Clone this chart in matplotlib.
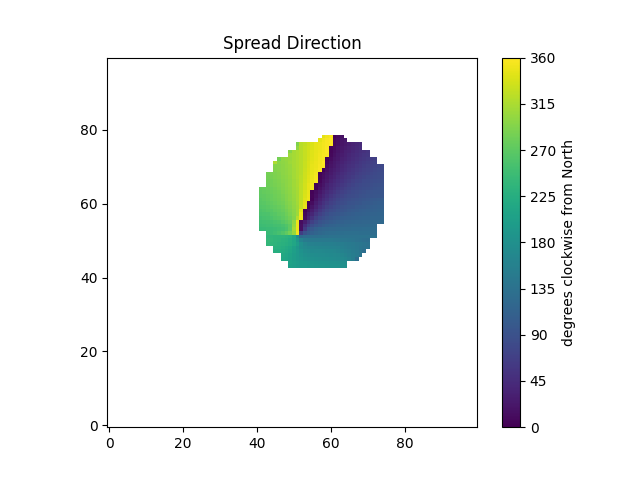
import numpy as np
import matplotlib
matplotlib.use("Agg")
import matplotlib.pyplot as plt

grid_size = 100
first_col = {78: 58, 77: 57, 76: 51, 75: 51, 74: 49, 73: 49, 72: 46, 71: 45, 70: 45, 69: 45,
             68: 43, 67: 43, 66: 43, 65: 43, 64: 41, 63: 41, 62: 41, 61: 41, 60: 41, 59: 41,
             58: 41, 57: 41, 56: 41, 55: 41, 54: 41, 53: 41, 52: 43, 51: 43, 50: 43, 49: 43,
             48: 45, 47: 45, 46: 47, 45: 47, 44: 49, 43: 49}

# degrees, one list per grid row
row_78 = [345, 352, 357, 3, 10, 16]
row_77 = [345, 352, 356, 359, 8, 14, 20, 25]
row_76 = [290, 321, 326, 333, 340, 346, 349, 353, 357, 359, 8, 14, 21, 25, 30, 35, 39, 43]
row_75 = [300, 321, 328, 334, 341, 346, 350, 354, 358, 3, 9, 17, 23, 28, 33, 37, 41, 45]
row_74 = [295, 312, 316, 321, 328, 335, 342, 347, 351, 355, 359, 6, 13, 20, 25, 31, 35, 40, 44, 48, 52, 55]
row_73 = [307, 312, 316, 321, 329, 336, 343, 348, 352, 356, 358, 8, 16, 23, 28, 33, 38, 43, 47, 51, 55, 59]
row_72 = [285, 300, 303, 306, 312, 316, 322, 329, 337, 344, 348, 353, 357, 4, 12, 20, 25, 31, 36, 41, 46, 50, 54, 58, 61, 65, 68]
row_71 = [315, 296, 299, 302, 307, 312, 316, 322, 330, 338, 345, 349, 354, 359, 7, 16, 23, 29, 35, 40, 44, 49, 53, 58, 61, 65, 68, 71]
row_70 = [293, 295, 298, 301, 305, 311, 315, 322, 330, 338, 346, 350, 355, 358, 10, 19, 25, 32, 38, 43, 48, 52, 57, 60, 65, 68, 71, 74, 76, 79]
row_69 = [292, 294, 297, 300, 305, 310, 315, 322, 331, 340, 347, 351, 357, 3, 15, 23, 29, 35, 41, 46, 51, 56, 60, 64, 68, 71, 74, 77, 79, 81]
row_68 = [285, 287, 290, 293, 297, 300, 304, 310, 315, 322, 332, 341, 348, 353, 3, 12, 19, 26, 33, 39, 45, 50, 55, 59, 64, 68, 71, 74, 77, 80, 82, 84]
row_67 = [283, 286, 289, 292, 296, 299, 303, 310, 315, 323, 333, 343, 349, 355, 5, 13, 22, 30, 36, 43, 49, 54, 59, 63, 68, 71, 75, 78, 80, 82, 84, 85]
row_66 = [282, 284, 287, 291, 295, 298, 302, 309, 314, 323, 334, 344, 351, 357, 6, 17, 25, 34, 41, 47, 53, 59, 63, 68, 72, 75, 79, 81, 83, 85, 87, 88]
row_65 = [281, 283, 286, 289, 293, 297, 301, 308, 314, 324, 335, 346, 353, 3, 12, 21, 31, 40, 46, 52, 58, 63, 68, 72, 76, 79, 82, 84, 86, 88, 89, 91]
row_64 = [275, 277, 279, 281, 284, 288, 292, 296, 300, 307, 313, 324, 336, 347, 354, 2, 16, 26, 35, 43, 50, 57, 63, 68, 72, 76, 80, 82, 85, 87, 88, 90, 92, 93]
row_63 = [272, 275, 277, 279, 282, 285, 290, 295, 299, 306, 312, 325, 338, 348, 3, 12, 22, 32, 42, 49, 56, 63, 68, 73, 77, 81, 84, 86, 88, 90, 92, 93, 94, 95]
row_62 = [270, 272, 275, 277, 280, 283, 288, 293, 298, 304, 312, 325, 340, 349, 5, 15, 27, 37, 47, 55, 62, 68, 74, 78, 82, 84, 87, 89, 91, 93, 94, 95, 96, 97]
row_61 = [268, 270, 273, 276, 279, 282, 286, 292, 297, 303, 311, 326, 342, 351, 4, 21, 33, 44, 53, 62, 68, 75, 79, 83, 86, 89, 91, 93, 96, 98, 100, 102, 104, 106]
row_60 = [266, 268, 270, 273, 276, 280, 284, 290, 295, 302, 310, 327, 345, 3, 12, 27, 40, 52, 60, 68, 74, 80, 84, 87, 90, 92, 95, 97, 100, 102, 104, 106, 107, 108]
row_59 = [264, 265, 268, 270, 273, 277, 281, 287, 293, 300, 309, 328, 347, 5, 20, 35, 48, 59, 68, 75, 81, 85, 89, 92, 95, 97, 100, 102, 104, 106, 108, 109, 110, 111]
row_58 = [260, 262, 265, 267, 270, 274, 278, 284, 291, 298, 308, 345, 3, 15, 29, 44, 58, 68, 76, 83, 87, 91, 94, 97, 100, 103, 105, 107, 109, 110, 111, 112, 113, 114]
row_57 = [257, 258, 260, 263, 267, 270, 274, 280, 288, 296, 307, 352, 8, 25, 39, 55, 68, 77, 85, 90, 93, 97, 100, 103, 106, 108, 110, 111, 112, 113, 114, 115, 116, 116]
row_56 = [253, 255, 257, 259, 263, 266, 270, 276, 283, 293, 320, 352, 10, 31, 52, 68, 79, 87, 92, 96, 100, 103, 107, 109, 111, 112, 113, 115, 116, 116, 117, 118, 118, 119]
row_55 = [250, 251, 252, 254, 257, 260, 265, 270, 278, 300, 350, 12, 28, 50, 68, 81, 90, 96, 100, 105, 108, 111, 112, 114, 115, 116, 117, 118, 119, 119, 120, 121, 121, 122]
row_54 = [247, 248, 249, 250, 252, 254, 257, 262, 270, 305, 350, 15, 45, 68, 85, 94, 99, 106, 111, 113, 115, 117, 118, 119, 120, 121, 121, 122, 122, 123, 123, 124]
row_53 = [243, 244, 245, 246, 247, 249, 252, 258, 272, 310, 350, 15, 60, 90, 100, 111, 116, 119, 120, 121, 122, 123, 124, 125, 125, 126, 126, 126, 127, 127, 127, 127]
row_52 = [242, 245, 250, 255, 262, 272, 285, 305, 352, 65, 92, 105, 112, 118, 122, 125, 127, 128, 129, 130, 130, 131, 131, 131, 131, 130, 130, 130, 129, 129]
row_51 = [237, 237, 236, 236, 235, 233, 228, 215, 175, 125, 128, 130, 131, 132, 133, 134, 134, 135, 135, 136, 136, 136, 136, 136, 136, 135, 135, 135, 134, 134]
row_50 = [240, 238, 236, 234, 231, 228, 223, 213, 190, 160, 150, 147, 146, 146, 146, 146, 145, 145, 144, 143, 142, 141, 140, 138, 136, 134, 132, 130]
row_49 = [238, 236, 234, 232, 229, 226, 221, 213, 200, 178, 165, 160, 158, 157, 157, 156, 155, 155, 154, 153, 152, 150, 148, 146, 143, 141, 138, 135]
row_48 = [229, 227, 224, 220, 214, 205, 190, 177, 170, 166, 165, 164, 163, 162, 161, 160, 159, 158, 156, 153, 150, 147, 144, 140, 137, 135]
row_47 = [226, 224, 221, 217, 211, 203, 193, 183, 177, 173, 171, 170, 169, 168, 167, 166, 165, 163, 160, 157, 154, 150, 146, 140, 130]
row_46 = [217, 213, 208, 201, 194, 186, 181, 178, 176, 175, 174, 173, 172, 171, 170, 168, 165, 161, 157, 152, 147, 138]
row_45 = [214, 211, 206, 200, 195, 189, 185, 182, 180, 179, 178, 177, 176, 175, 174, 172, 170, 166, 161, 153, 130]
row_44 = [207, 203, 199, 195, 192, 189, 187, 185, 184, 183, 182, 181, 180, 179, 178, 176]
row_43 = [205, 202, 198, 195, 193, 191, 189, 188, 187, 186, 185, 184, 183, 182, 181, 180]

rows = {78: row_78, 77: row_77, 76: row_76, 75: row_75, 74: row_74, 73: row_73, 72: row_72, 71: row_71, 70: row_70,
        69: row_69, 68: row_68, 67: row_67, 66: row_66, 65: row_65, 64: row_64, 63: row_63, 62: row_62, 61: row_61,
        60: row_60, 59: row_59, 58: row_58, 57: row_57, 56: row_56, 55: row_55, 54: row_54, 53: row_53, 52: row_52,
        51: row_51, 50: row_50, 49: row_49, 48: row_48, 47: row_47, 46: row_46, 45: row_45, 44: row_44, 43: row_43}

cbar_ticks = [0, 45, 90, 135, 180, 225, 270, 315, 360]

direction = np.full((grid_size, grid_size), np.nan)
for r, vals in rows.items():
    c = first_col[r]
    direction[r, c:c + len(vals)] = vals

fig, ax = plt.subplots()
im = ax.imshow(direction, origin="lower", cmap="viridis", vmin=0, vmax=360)
ax.set_title("Spread Direction")
cbar = fig.colorbar(im, ax=ax, ticks=cbar_ticks)
cbar.set_label("degrees clockwise from North")
fig.savefig("out.png", dpi=100)
